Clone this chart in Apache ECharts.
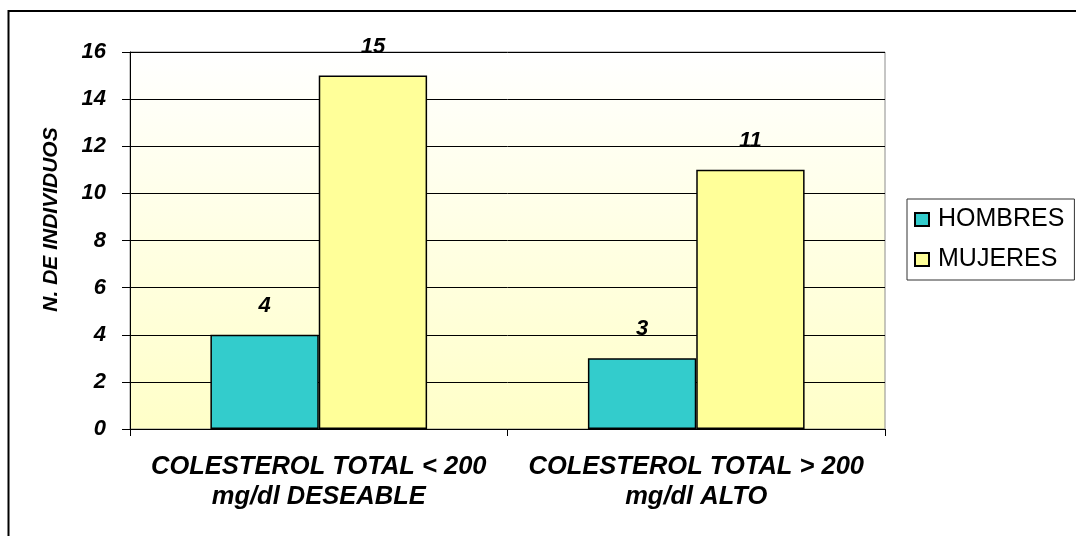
<!DOCTYPE html>
<html>
<head>
<meta charset="utf-8">
<script src="https://cdn.jsdelivr.net/npm/echarts@6/dist/echarts.min.js"></script>
<style>
  html, body { margin: 0; padding: 0; background: #fff; }
  #chart { width: 1076px; height: 536px; }
</style>
</head>
<body>
<div id="chart"></div>
<script>
// Colesterol total por sexo
const categories = ['COLESTEROL TOTAL < 200\nmg/dl DESEABLE', 'COLESTEROL TOTAL > 200\nmg/dl ALTO'];
const hombres = [4, 3];
const mujeres = [15, 11];
const seriesNames = ['HOMBRES', 'MUJERES'];
const yTicks = { min: 0, max: 16, step: 2 };

const FONT = "Arial, 'Liberation Sans', sans-serif";
function boldItalic(size) {
  return { fontFamily: FONT, fontSize: size, fontWeight: 'bold', fontStyle: 'italic', color: '#000' };
}

const chart = echarts.init(document.getElementById('chart'), null, { renderer: 'canvas' });

const barLabel = Object.assign({ show: true, position: 'top', distance: 18 }, boldItalic(22));

chart.setOption({
  animation: false,
  backgroundColor: '#fff',
  graphic: [{
    type: 'rect',
    z: -10,
    shape: { x: 8.5, y: 11, width: 1200, height: 700 },
    style: { fill: 'none', stroke: '#000', lineWidth: 2 }
  }],
  grid: {
    left: 130, top: 52, right: 191, bottom: 107,
    show: true,
    borderColor: '#8c8c8c',
    borderWidth: 1,
    backgroundColor: new echarts.graphic.LinearGradient(0, 0, 0, 1, [
      { offset: 0, color: '#ffffff' },
      { offset: 1, color: '#ffffc8' }
    ])
  },
  legend: {
    orient: 'vertical',
    left: 907, top: 199,
    padding: [8, 10, 8, 7],
    itemGap: 15,
    itemWidth: 14, itemHeight: 13,
    icon: 'rect',
    borderColor: '#333', borderWidth: 1,
    textStyle: { fontFamily: FONT, fontSize: 25, color: '#000', padding: [0, 0, 0, 4] },
    data: seriesNames
  },
  xAxis: {
    type: 'category',
    data: categories,
    axisLine: { lineStyle: { color: '#000', width: 1 } },
    axisTick: { show: true, length: 7, lineStyle: { color: '#000' } },
    axisLabel: Object.assign({ margin: 23, lineHeight: 30, interval: 0 }, boldItalic(25.5)),
    splitLine: { show: false }
  },
  yAxis: {
    type: 'value',
    min: yTicks.min, max: yTicks.max, interval: yTicks.step,
    name: 'N. DE INDIVIDUOS',
    nameLocation: 'middle',
    nameGap: 68,
    nameRotate: 90,
    nameTextStyle: Object.assign({ padding: [0, 0, 0, 42] }, boldItalic(21)),
    axisLine: { show: true, lineStyle: { color: '#000', width: 1 } },
    axisTick: { show: true, length: 8, lineStyle: { color: '#000' } },
    axisLabel: Object.assign({ margin: 24 }, boldItalic(22)),
    splitLine: { show: true, lineStyle: { color: '#000', width: 1 } }
  },
  series: [
    {
      name: seriesNames[0], type: 'bar', data: hombres,
      barWidth: '28.7%', barGap: '0%',
      itemStyle: { color: '#33cccc', borderColor: '#000', borderWidth: 1.5 },
      label: barLabel
    },
    {
      name: seriesNames[1], type: 'bar', data: mujeres,
      barWidth: '28.7%', barGap: '0%',
      itemStyle: { color: '#ffff99', borderColor: '#000', borderWidth: 1.5 },
      label: barLabel
    }
  ]
});
</script>
</body>
</html>
